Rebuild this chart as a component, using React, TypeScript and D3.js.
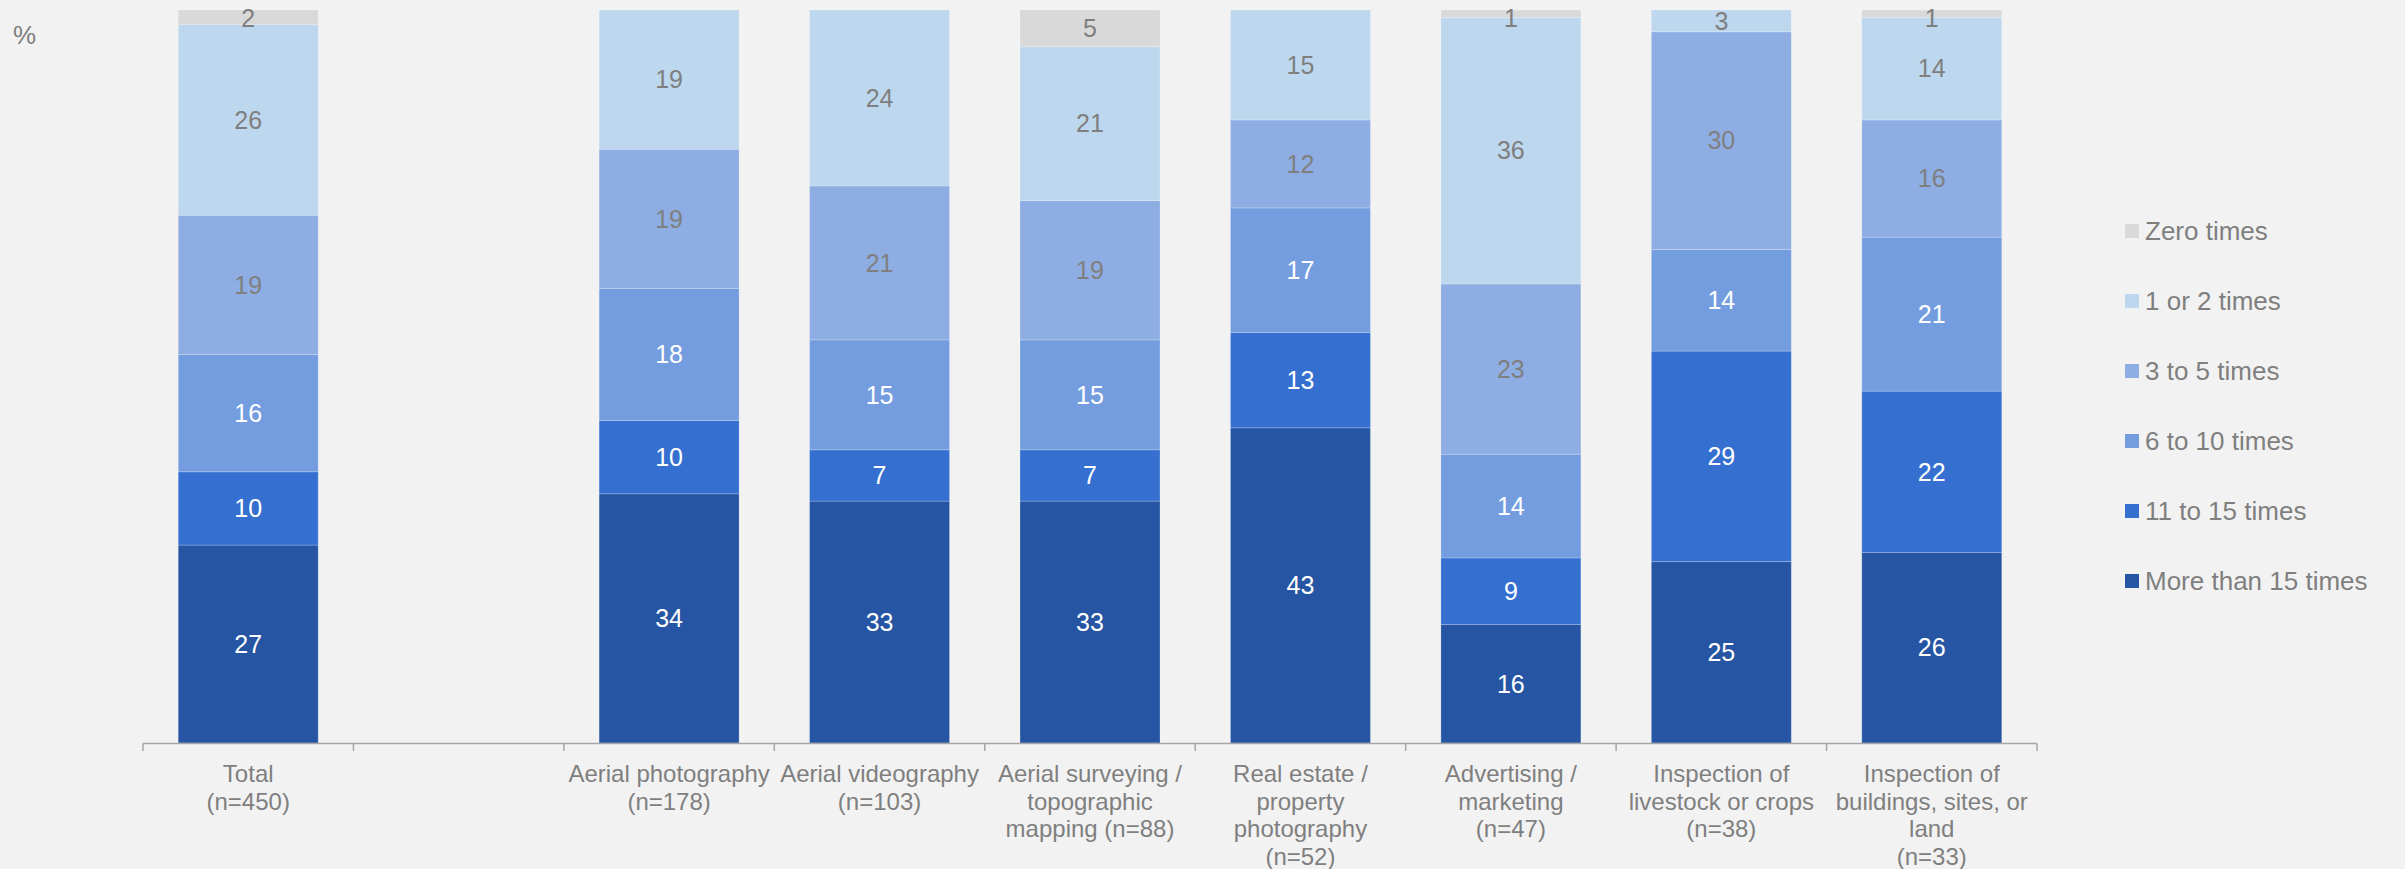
import React from 'react';
import * as d3 from 'd3';

const categories = [
  'Total',
  '',
  'Aerial photography',
  'Aerial videography',
  'Aerial surveying',
  'Real estate',
  'Advertising',
  'Livestock',
  'Buildings',
];

const categoryLabels: string[][] = [
  ['Total', '(n=450)'],
  [],
  ['Aerial photography', '(n=178)'],
  ['Aerial videography', '(n=103)'],
  ['Aerial surveying /', 'topographic', 'mapping (n=88)'],
  ['Real estate /', 'property', 'photography', '(n=52)'],
  ['Advertising /', 'marketing', '(n=47)'],
  ['Inspection of', 'livestock or crops', '(n=38)'],
  ['Inspection of', 'buildings, sites, or', 'land', '(n=33)'],
];

// series, bottom to top
const seriesNames = [
  'More than 15 times',
  '11 to 15 times',
  '6 to 10 times',
  '3 to 5 times',
  '1 or 2 times',
  'Zero times',
];

const moreThan15 = [27, 0, 34, 33, 33, 43, 16, 25, 26];
const from11to15 = [10, 0, 10, 7, 7, 13, 9, 29, 22];
const from6to10 = [16, 0, 18, 15, 15, 17, 14, 14, 21];
const from3to5 = [19, 0, 19, 21, 19, 12, 23, 30, 16];
const oneOrTwo = [26, 0, 19, 24, 21, 15, 36, 3, 14];
const zeroTimes = [2, 0, 0, 0, 5, 0, 1, 0, 1];

const seriesValues = [moreThan15, from11to15, from6to10, from3to5, oneOrTwo, zeroTimes];

const colors = ['#2656a3', '#3570d0', '#749de0', '#8eade3', '#bdd7ee', '#d9d9d9'];
const labelColors = ['#ffffff', '#ffffff', '#ffffff', '#7f7f7f', '#7f7f7f', '#7f7f7f'];

const W = 2405;
const H = 869;
const textColor = '#7f7f7f';
const font = '"Liberation Sans", Arial, sans-serif';

export default function App() {
  const x = d3.scaleBand<string>().domain(categories).range([143, 2037]).paddingInner(0).paddingOuter(0);
  const y = d3.scaleLinear().domain([0, 1]).range([743, 10]);
  const barW = x.bandwidth() * 0.665;

  const rows = categories.map((c, i) => {
    const r: Record<string, number | string> = { cat: c };
    seriesNames.forEach((s, j) => (r[s] = seriesValues[j][i]));
    return r;
  });
  const stacked = d3
    .stack<Record<string, number | string>>()
    .keys(seriesNames)
    .value((d, k) => d[k] as number)
    .offset(d3.stackOffsetExpand)(rows);

  const tickXs = [...categories.map((c) => x(c) as number), x.range()[1]];

  return (
    <svg width={W} height={H} style={{ position: 'absolute', left: 0, top: 0, fontFamily: font }}>
      <rect width={W} height={H} fill="#f2f2f2" />
      <text x={13} y={44} fontSize={26} fill={textColor}>%</text>

      {stacked.map((layer, j) => (
        <g key={layer.key}>
          {layer.map((d, i) => {
            const v = seriesValues[j][i];
            if (!v) return null;
            const cx = (x(categories[i]) as number) + x.bandwidth() / 2;
            const y0 = y(d[0]);
            const y1 = y(d[1]);
            return (
              <g key={i}>
                <rect
                  x={cx - barW / 2}
                  y={y1}
                  width={barW}
                  height={y0 - y1}
                  fill={colors[j]}
                  stroke="#ffffff"
                  strokeOpacity={0.2}
                  strokeWidth={1}
                />
                <text
                  x={cx}
                  y={Math.max((y0 + y1) / 2, 18)}
                  dy="0.35em"
                  textAnchor="middle"
                  fontSize={25}
                  fill={labelColors[j]}
                >
                  {v}
                </text>
              </g>
            );
          })}
        </g>
      ))}

      {/* x axis with ticks between categories */}
      <line x1={143} x2={2037} y1={743.5} y2={743.5} stroke="#a6a6a6" strokeWidth={1.5} />
      {tickXs.map((tx, i) => (
        <line key={i} x1={tx} x2={tx} y1={743.5} y2={751} stroke="#a6a6a6" strokeWidth={1.5} />
      ))}

      {categoryLabels.map((lines, i) => (
        <text
          key={i}
          x={(x(categories[i]) as number) + x.bandwidth() / 2}
          y={782}
          textAnchor="middle"
          fontSize={24}
          fill={textColor}
        >
          {lines.map((l, k) => (
            <tspan key={k} x={(x(categories[i]) as number) + x.bandwidth() / 2} dy={k === 0 ? 0 : 27.6}>
              {l}
            </tspan>
          ))}
        </text>
      ))}

      {/* legend, top = Zero times */}
      {[...seriesNames].reverse().map((s, i) => {
        const j = seriesNames.length - 1 - i;
        const cy = 231 + i * 70;
        return (
          <g key={s}>
            <rect x={2125} y={cy - 7} width={14} height={14} fill={colors[j]} />
            <text x={2145} y={cy} dy="0.35em" fontSize={26} fill={textColor}>
              {s}
            </text>
          </g>
        );
      })}
    </svg>
  );
}
